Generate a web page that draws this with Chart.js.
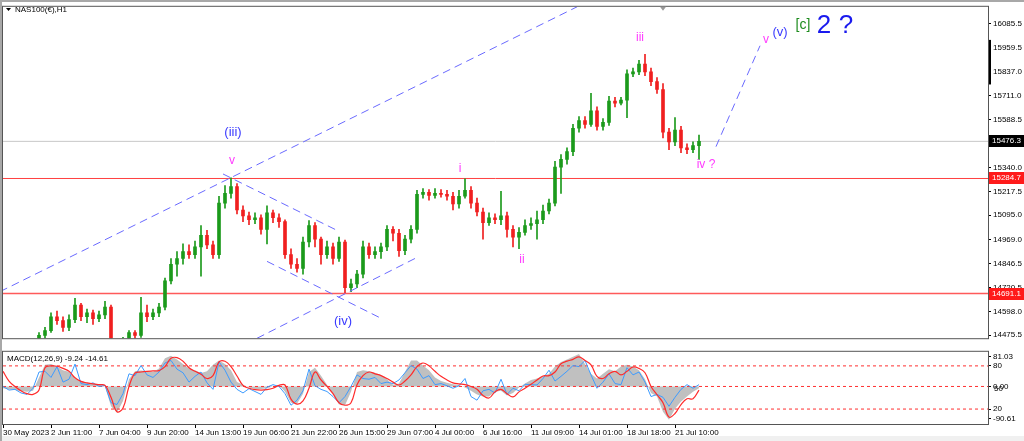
<!DOCTYPE html>
<html>
<head>
<meta charset="utf-8">
<script src="https://cdn.jsdelivr.net/npm/chart.js@4.4.0/dist/chart.umd.min.js"></script>
<style>
  body { margin: 0; background: #ffffff; }
  #wrap { position: relative; width: 1024px; height: 441px; overflow: hidden; }
  canvas { position: absolute; left: 0; }
</style>
</head>
<body>
<div id="wrap">
  <canvas id="priceChart" width="1024" height="345" style="top:0;width:1024px;height:345px"></canvas>
  <canvas id="macdChart" width="1024" height="96" style="top:345px;width:1024px;height:96px"></canvas>
</div>
<script>
// H1 candles, one per slot; first visible candle sits in slot 6
const firstBar = 6;
const openPrices = [14455,14475,14500,14571,14551,14516,14556,14631,14571,14591,14561,14581,14621,14430,14405,14455,14490,14475,14591,14571,14591,14621,14756,14842,14872,14907,14892,14932,14992,14942,14892,15158,15208,15243,15122,15092,15072,15082,15022,15107,15082,15062,14892,14842,14821,14957,15042,14972,14892,14932,14872,14957,14721,14741,14791,14932,14892,14907,14932,15022,15002,14912,14972,15022,15203,15213,15198,15208,15203,15193,15153,15193,15223,15158,15112,15057,15082,15072,15092,15022,14982,15007,15042,15052,15072,15117,15158,15343,15383,15423,15544,15584,15564,15634,15554,15574,15684,15674,15689,15825,15835,15875,15835,15785,15744,15524,15474,15534,15443,15433,15454];
const highPrices = [14490,14516,14591,14601,14571,14581,14666,14641,14611,14606,14601,14651,14631,14445,14465,14500,14500,14671,14631,14611,14641,14771,14872,14907,14947,14942,14962,15042,15017,14962,15193,15248,15288,15258,15143,15112,15107,15097,15143,15122,15102,15072,14922,14872,14982,15067,15057,14982,14962,14952,14982,14967,14766,14811,14962,14952,14932,14952,15042,15037,15022,14992,15042,15223,15233,15228,15233,15228,15223,15213,15223,15283,15243,15183,15132,15107,15102,15218,15112,15042,15032,15072,15082,15117,15148,15178,15373,15408,15443,15564,15604,15604,15724,15654,15594,15709,15704,15704,15845,15855,15895,15925,15855,15805,15774,15544,15599,15554,15464,15474,15509];
const lowPrices = [14430,14460,14490,14531,14495,14500,14541,14551,14541,14531,14546,14561,14405,14380,14390,14440,14455,14465,14546,14556,14571,14606,14741,14781,14842,14872,14872,14781,14922,14872,14872,15132,15183,15102,15062,15047,15052,14997,14947,15057,15032,14872,14821,14801,14791,14932,14932,14842,14872,14842,14857,14696,14701,14721,14771,14872,14872,14872,14912,14962,14882,14892,14952,15002,15183,15173,15183,15188,15173,15122,15132,15183,15132,15092,14972,15042,15052,15047,14982,14932,14922,14992,15022,14972,15052,15102,15143,15208,15358,15403,15524,15544,15554,15534,15534,15559,15654,15664,15599,15810,15820,15815,15764,15724,15494,15433,15454,15418,15413,15418,15383];
const closePrices = [14475,14500,14571,14551,14516,14556,14631,14571,14591,14561,14581,14621,14430,14405,14455,14490,14475,14591,14571,14591,14621,14756,14842,14872,14907,14892,14932,14992,14942,14892,15158,15208,15243,15122,15092,15072,15082,15022,15107,15082,15062,14892,14842,14821,14957,15042,14972,14892,14932,14872,14957,14721,14741,14791,14932,14892,14907,14932,15022,15002,14912,14972,15022,15203,15213,15198,15208,15203,15193,15153,15193,15223,15158,15112,15057,15082,15072,15092,15022,14982,15007,15042,15052,15072,15117,15158,15343,15383,15423,15544,15584,15564,15634,15554,15574,15684,15674,15689,15825,15835,15875,15835,15785,15744,15524,15474,15534,15443,15433,15454,15476.3];

// lower panel, one value per slot starting at slot 0
const macdMain = [-5,-8,-10,-13,-15,-12,25,60,62,55,45,41,22,15,10,7,5,0,-55,-72,-40,20,42,44,42,40,50,78,85,75,62,50,45,37,42,60,72,62,45,12,5,-3,-7,-7,-5,0,4,-15,-45,-48,-20,40,52,30,5,-20,-50,-52,-15,40,45,42,38,32,20,5,8,40,72,72,58,45,25,15,10,6,4,-3,-12,-22,-28,-28,-15,-12,-25,-18,-3,8,18,22,28,35,55,68,75,82,90,62,35,22,35,48,42,55,60,55,45,20,-18,-28,-70,-92,-62,-42,-28,-15,-5];
const macdSignal = [42,15,0,-12,-20,-22,-10,52,57,56,50,42,24,14,10,7,5,3,-30,-70,-60,0,37,40,42,43,44,55,78,80,70,52,42,34,22,30,68,70,55,29,3,-5,-9,-10,-9,-5,3,4,-35,-49,-40,-5,40,18,0,-20,-45,-52,-45,5,30,40,35,30,22,12,4,15,32,55,65,57,42,28,18,10,7,5,0,-8,-25,-32,-15,-8,-20,-29,-15,-5,6,18,29,30,40,63,70,75,82,72,60,28,22,35,42,32,42,54,50,38,0,-23,-45,-85,-75,-50,-34,-34,-10];
const oscLine = [0,-10,-8,-18,-22,-5,40,42,25,55,12,20,62,8,5,10,0,3,-45,-50,-20,35,30,58,32,25,40,65,72,48,38,12,28,40,10,-8,68,45,12,-8,-18,-6,-14,-22,-2,5,0,-20,-52,-38,-12,48,2,-8,-14,-28,-45,-28,0,32,22,20,25,8,12,8,18,38,58,48,22,30,5,8,2,-5,2,22,-28,-38,-12,-8,-18,20,-22,-5,-12,6,5,4,22,45,15,28,42,58,55,72,32,-5,12,35,8,5,52,32,40,12,-28,-22,-30,-55,-30,-8,5,-5,5];

const timeLabels = ["30 May 2023","2 Jun 11:00","7 Jun 04:00","9 Jun 20:00","14 Jun 13:00","19 Jun 06:00","21 Jun 22:00","26 Jun 15:00","29 Jun 07:00","4 Jul 00:00","6 Jul 16:00","11 Jul 09:00","14 Jul 01:00","18 Jul 18:00","21 Jul 10:00"];
const labelEvery = 8; // slots between time labels
const priceTicks = [16085.5,15959.5,15837.0,15711.0,15588.5,15340.0,15217.5,15095.0,14969.0,14846.5,14720.5,14598.0,14475.5];
const macdTicks = [83, 57, 0, -62.6, -88.7];
const macdTickLabels = ["81.03", "80", "0.00", "20", "-90.61"];
const macdLevels = [57, 0, -62.6];

const resistance = 15284.7;
const support = 14691.1;
const lastPrice = 15476.3;

// dashed wave channels: [slot, price] end points
const trendLines = [
  [[-0.5, 14701], [95.7, 16171]],
  [[36.67, 15308], [55.67, 15017]],
  [[44, 14857], [62.83, 14566]],
  [[42.33, 14460], [68.67, 14872]],
  [[118.83, 15449], [126.17, 15970]],
];

// wave count labels: text, slot, price, colour, font size
const waveLabels = [
  ["(iii)", 38.33, 15524, "#3a3aff", 13],
  ["v", 38.17, 15378, "#ff3cff", 12],
  ["(iv)", 56.67, 14546, "#3a3aff", 13],
  ["i", 76.17, 15333, "#ff3cff", 12],
  ["ii", 86.5, 14867, "#ff3cff", 12],
  ["iii", 106.17, 16010, "#ff3cff", 12],
  ["iv ?", 117.17, 15358, "#ff3cff", 12],
  ["v", 127.17, 16000, "#ff3cff", 12],
  ["(v)", 129.5, 16040, "#3a3aff", 13],
  ["[c]", 133.33, 16075, "#1e8c1e", 14],
  ["2", 136.83, 16075, "#1a1aee", 26],
  ["?", 140.5, 16075, "#1a1aee", 26],
];

const xMax = 985 / 6; // slots across the plot
const FONT = '"Liberation Sans", Arial, sans-serif';

Chart.defaults.font.family = FONT;
Chart.defaults.font.size = 8;
Chart.defaults.color = "#000";
Chart.defaults.animation = false;

const slots = openPrices.map((_, k) => firstBar + k);
const candleColor = (ctx) => closePrices[ctx.dataIndex] >= openPrices[ctx.dataIndex] ? "#1c9a1c" : "#f02020";

function flatLine(value, color, width, dash, order) {
  return {
    type: "line",
    data: [{ x: 0, y: value }, { x: xMax, y: value }],
    borderColor: color,
    borderWidth: width,
    borderDash: dash,
    pointRadius: 0,
    clip: 0,
    order: order,
  };
}

const pricePlugin = {
  id: "priceDecor",
  beforeDraw(chart) {
    const ctx = chart.ctx;
    ctx.save();
    ctx.fillStyle = "#fff";
    ctx.fillRect(0, 0, chart.width, chart.height);
    ctx.restore();
  },
  afterDraw(chart) {
    const { ctx, chartArea: a, scales } = chart;
    const x = scales.x, y = scales.y;
    ctx.save();
    // outer window edge and plot frame
    ctx.fillStyle = "#a8a8a8";
    ctx.fillRect(0, 0, chart.width, 2);
    ctx.fillRect(0, 0, 2, chart.height);
    ctx.strokeStyle = "#555";
    ctx.lineWidth = 1;
    ctx.strokeRect(a.left - 0.5, a.top - 0.5, a.right - a.left + 1, a.bottom - a.top + 1);

    // symbol title
    ctx.fillStyle = "#000";
    ctx.beginPath();
    ctx.moveTo(6, 8); ctx.lineTo(11, 8); ctx.lineTo(8.5, 11); ctx.closePath();
    ctx.fill();
    ctx.font = "8px " + FONT;
    ctx.textBaseline = "middle";
    ctx.textAlign = "left";
    ctx.fillText("NAS100(\u20AC),H1", 15, 10);

    // chart shift marker
    const sx = x.getPixelForValue(110);
    ctx.fillStyle = "#999";
    ctx.beginPath();
    ctx.moveTo(sx - 3, a.top); ctx.lineTo(sx + 3, a.top); ctx.lineTo(sx, a.top + 4); ctx.closePath();
    ctx.fill();

    // wave labels
    ctx.textAlign = "center";
    waveLabels.forEach(([t, s, p, c, size]) => {
      ctx.font = size + "px " + FONT;
      ctx.fillStyle = c;
      ctx.fillText(t, x.getPixelForValue(s), y.getPixelForValue(p));
    });

    // range marker on the price axis
    ctx.fillStyle = "#000";
    const r1 = y.getPixelForValue(16000), r2 = y.getPixelForValue(15770);
    ctx.fillRect(a.right + 1, r1, 2, r2 - r1);

    // price boxes on the axis
    ctx.font = "8px " + FONT;
    ctx.textAlign = "left";
    [[lastPrice, "#000"], [resistance, "#ff1a1a"], [support, "#ff1a1a"]].forEach(([v, bg]) => {
      const py = Math.round(y.getPixelForValue(v));
      ctx.fillStyle = bg;
      ctx.fillRect(a.right + 1, py - 6, 35, 12);
      ctx.fillStyle = "#fff";
      ctx.fillText(v.toFixed(1), a.right + 4, py);
    });
    ctx.restore();
  },
};

new Chart(document.getElementById("priceChart"), {
  type: "bar",
  data: {
    datasets: [
      {
        data: slots.map((s, k) => ({ x: s, y: [lowPrices[k], highPrices[k]] })),
        backgroundColor: candleColor,
        barThickness: 1,
        grouped: false,
        clip: 0,
        order: 2,
      },
      {
        data: slots.map((s, k) => ({ x: s, y: [openPrices[k], closePrices[k]] })),
        backgroundColor: candleColor,
        barThickness: 3,
        minBarLength: 1,
        grouped: false,
        clip: 0,
        order: 2,
      },
      flatLine(lastPrice, "#c8c8c8", 1, [], 3),
      flatLine(resistance, "#ff4040", 1, [], 3),
      flatLine(support, "#ff5a5a", 1.6, [], 3),
      ...trendLines.map((pts) => ({
        type: "line",
        data: pts.map(([s, p]) => ({ x: s, y: p })),
        borderColor: "#6a6aff",
        borderWidth: 1,
        borderDash: [8, 5],
        pointRadius: 0,
        clip: 0,
        order: 1,
      })),
    ],
  },
  options: {
    responsive: false,
    events: [],
    layout: { padding: { left: 3, top: 3, right: 0, bottom: 1 } },
    plugins: { legend: { display: false }, tooltip: { enabled: false } },
    scales: {
      x: { type: "linear", display: false, min: 0, max: xMax, offset: false },
      y: {
        position: "right",
        min: 14460.5,
        max: 16170.8,
        afterBuildTicks: (s) => { s.ticks = priceTicks.map((v) => ({ value: v })); },
        afterFit: (s) => { s.width = 36; },
        ticks: { autoSkip: false, padding: 2, callback: (v) => Number(v).toFixed(1) },
        grid: { drawOnChartArea: false, tickLength: 3, color: "#000" },
        border: { display: false },
      },
    },
  },
  plugins: [pricePlugin],
});

const macdPlugin = {
  id: "macdDecor",
  beforeDraw(chart) {
    const ctx = chart.ctx;
    ctx.save();
    ctx.fillStyle = "#fff";
    ctx.fillRect(0, 0, chart.width, chart.height);
    ctx.fillStyle = "#f0f0f0";
    ctx.fillRect(0, chart.height - 5, chart.width, 5);
    ctx.restore();
  },
  afterDraw(chart) {
    const { ctx, chartArea: a, scales } = chart;
    ctx.save();
    ctx.fillStyle = "#a8a8a8";
    ctx.fillRect(0, 0, 2, chart.height);
    ctx.strokeStyle = "#555";
    ctx.lineWidth = 1;
    ctx.strokeRect(a.left - 0.5, a.top - 0.5, a.right - a.left + 1, a.bottom - a.top + 1);
    ctx.fillStyle = "#000";
    ctx.font = "8px " + FONT;
    ctx.textBaseline = "middle";
    ctx.textAlign = "left";
    ctx.fillText("MACD(12,26,9) -9.24 -14.61", 7, a.top + 7);
    // second level label that overlaps 0.00
    ctx.fillText("50", a.right + 6, scales.y.getPixelForValue(0) + 2);
    ctx.restore();
  },
};

const series = (arr) => arr.map((v, i) => ({ x: i, y: v }));

new Chart(document.getElementById("macdChart"), {
  type: "line",
  data: {
    datasets: [
      {
        data: series(macdMain),
        fill: "origin",
        backgroundColor: "#c0c0c0",
        borderWidth: 0,
        pointRadius: 0,
        clip: 0,
        order: 4,
      },
      ...macdLevels.map((v) => flatLine(v, "#ff3030", 1, [3, 3], 3)),
      {
        data: series(oscLine),
        borderColor: "#3d9bff",
        borderWidth: 1,
        pointRadius: 0,
        clip: 0,
        order: 2,
      },
      {
        data: series(macdSignal),
        borderColor: "#ff2a2a",
        borderWidth: 1.2,
        tension: 0.4,
        pointRadius: 0,
        clip: 0,
        order: 1,
      },
    ],
  },
  options: {
    responsive: false,
    events: [],
    layout: { padding: { left: 3, top: 2, right: 0, bottom: 0 } },
    plugins: { legend: { display: false }, tooltip: { enabled: false } },
    scales: {
      x: {
        type: "linear",
        min: 0,
        max: xMax,
        offset: false,
        afterBuildTicks: (s) => { s.ticks = timeLabels.map((_, k) => ({ value: k * labelEvery })); },
        afterFit: (s) => { s.height = 17; },
        ticks: { autoSkip: false, maxRotation: 0, align: "start", padding: 0, callback: (v, i) => timeLabels[i] },
        grid: { drawOnChartArea: false, tickLength: 4, color: "#000" },
        border: { display: false },
      },
      y: {
        position: "right",
        min: -104,
        max: 96,
        afterBuildTicks: (s) => { s.ticks = macdTicks.map((v) => ({ value: v })); },
        afterFit: (s) => { s.width = 36; },
        ticks: { autoSkip: false, padding: 2, callback: (v, i) => macdTickLabels[i] },
        grid: { drawOnChartArea: false, tickLength: 3, color: "#000" },
        border: { display: false },
      },
    },
  },
  plugins: [macdPlugin],
});
</script>
</body>
</html>
